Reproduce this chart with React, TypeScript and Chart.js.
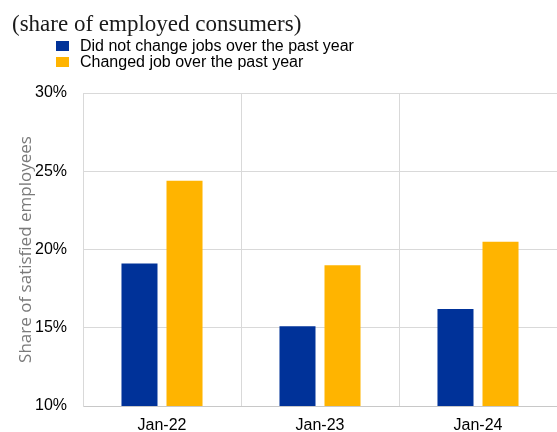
import React, { useEffect, useRef } from "react";
import { Chart, registerables } from "chart.js";

Chart.register(...registerables);

const TITLE = "(share of employed consumers)";
const categories = ["Jan-22", "Jan-23", "Jan-24"];
const seriesLabels = [
  "Did not change jobs over the past year",
  "Changed job over the past year",
];
const notChanged = [19.1, 15.1, 16.2];
const changed = [24.4, 19.0, 20.5];
const yTicks = [10, 15, 20, 25, 30];
const yAxisTitle = "Share of satisfied employees";

const BLUE = "#003299";
const YELLOW = "#FFB400";

const headerPlugin = {
  id: "header",
  afterDraw(chart: any) {
    const ctx = chart.ctx;
    ctx.save();
    ctx.textBaseline = "alphabetic";
    ctx.textAlign = "left";
    ctx.font = '23px "Liberation Serif"';
    ctx.fillStyle = "#1a1a1a";
    ctx.fillText(TITLE, 12, 31);
    ctx.font = '16px "Liberation Sans"';
    chart.data.datasets.forEach((ds: any, i: number) => {
      const y = 41 + i * 16;
      ctx.fillStyle = ds.backgroundColor;
      ctx.fillRect(56, y, 13, 10);
      ctx.fillStyle = "#000000";
      ctx.fillText(ds.label, 80, y + 10);
    });
    ctx.restore();
  },
};

export default function App() {
  const ref = useRef<HTMLCanvasElement | null>(null);
  useEffect(() => {
    if (!ref.current) return;
    const chart = new Chart(ref.current, {
      type: "bar",
      data: {
        labels: categories,
        datasets: [
          {
            label: seriesLabels[0],
            data: notChanged,
            backgroundColor: BLUE,
            categoryPercentage: 0.57,
            barPercentage: 0.8,
          },
          {
            label: seriesLabels[1],
            data: changed,
            backgroundColor: YELLOW,
            categoryPercentage: 0.57,
            barPercentage: 0.8,
          },
        ],
      },
      plugins: [headerPlugin],
      options: {
        responsive: false,
        animation: false,
        layout: { padding: { top: 93, left: 0, right: 0, bottom: 0 } },
        plugins: {
          legend: { display: false },
          title: { display: false },
          tooltip: { enabled: false },
        },
        scales: {
          x: {
            offset: true,
            grid: { color: "#d9d9d9", offset: true, drawTicks: false },
            border: { color: "#c8c8c8" },
            ticks: {
              color: "#000000",
              font: { family: "Liberation Sans", size: 16 },
              padding: 10,
            },
            afterFit: (s: any) => {
              s.height = 26;
            },
          },
          y: {
            min: 10,
            max: 30,
            afterBuildTicks: (s: any) => {
              s.ticks = yTicks.map((v) => ({ value: v }));
            },
            grid: { color: "#d9d9d9", drawTicks: false },
            border: { color: "#d9d9d9" },
            ticks: {
              color: "#000000",
              font: { family: "Liberation Sans", size: 16 },
              padding: 16,
              callback: (v: any) => v + "%",
            },
            title: {
              display: true,
              text: yAxisTitle,
              color: "#7a7a7a",
              font: { family: "Open Sans", size: 17 },
              padding: { top: 16, bottom: 0 },
            },
            afterFit: (s: any) => {
              s.width = 83;
            },
          },
        },
      },
    });
    return () => chart.destroy();
  }, []);
  return (
    <div style={{ position: "absolute", left: 0, top: 0, width: 557, height: 432 }}>
      <canvas ref={ref} width={557} height={432} style={{ display: "block" }} />
    </div>
  );
}
